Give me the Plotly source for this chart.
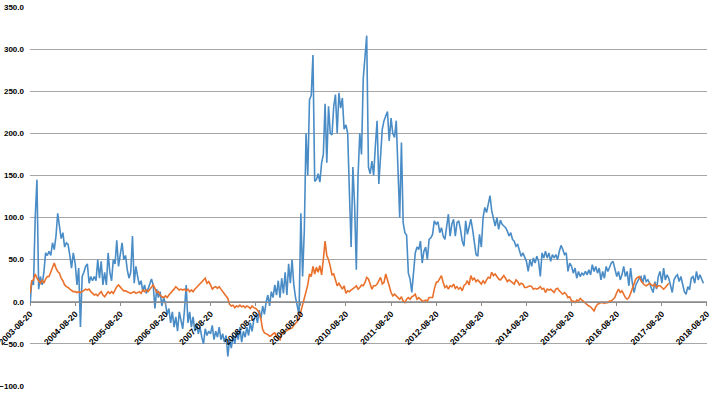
import pandas as pd
import plotly.graph_objects as go

# Biweekly readings, one list per year starting each 20 August (2003 .. 2017)
blue_2003 = [-5, 25, 20, 100, 145, 15, 30, 20, 35, 58, 55, 60, 55, 70, 62, 78, 105, 88, 75, 82, 65, 70, 68, 55, 40, 58]
blue_2004 = [45, 20, 40, -30, 30, 35, 42, 45, 22, 30, 25, 30, 25, 50, 28, 48, 20, 35, 20, 58, 35, 25, 50, 45, 73, 42]
blue_2005 = [60, 70, 50, 55, 38, 28, 35, 78, 22, 42, 30, 20, 25, 12, 20, 10, 15, 22, 27, 20, -8, 15, 5, 12, -5, 5]
blue_2006 = [-2, -15, -8, -25, -12, -30, -18, -35, -12, -22, -32, -10, 20, -25, -12, -30, -18, -35, -25, -38, -30, -42, -50, -32, -40, -35]
blue_2007 = [-38, -28, -45, -35, -42, -30, -45, -38, -48, -40, -65, -45, -55, -40, -50, -35, -45, -30, -48, -35, -42, -30, -40, -25, -35, -22]
blue_2008 = [-15, -25, -10, -20, -5, -15, 0, 8, -5, 12, 5, 20, 8, 25, 5, 28, 10, 35, 8, 45, 22, 50, 20, 5, -5, -15]
blue_2009 = [105, 30, 85, 200, 150, 240, 245, 293, 143, 145, 152, 142, 165, 175, 235, 165, 232, 200, 198, 232, 246, 200, 248, 230, 242, 205]
blue_2010 = [210, 200, 130, 65, 160, 115, 38, 150, 200, 175, 265, 290, 316, 160, 152, 167, 150, 185, 215, 140, 170, 205, 215, 222, 226, 191]
blue_2011 = [218, 200, 195, 215, 150, 100, 189, 94, 82, 79, 34, 27, 11, 34, 58, 65, 62, 72, 46, 60, 65, 50, 74, 76, 80, 96]
blue_2012 = [92, 95, 82, 88, 78, 74, 90, 104, 78, 92, 98, 78, 94, 96, 86, 72, 66, 96, 80, 88, 98, 86, 70, 56, 54, 80]
blue_2013 = [65, 100, 112, 106, 116, 126, 108, 98, 90, 100, 86, 97, 92, 90, 88, 84, 78, 82, 74, 72, 66, 68, 60, 54, 58, 52]
blue_2014 = [48, 36, 50, 42, 52, 46, 54, 48, 30, 58, 52, 60, 52, 58, 48, 56, 52, 56, 50, 60, 67, 62, 56, 58, 36, 46]
blue_2015 = [42, 34, 40, 28, 36, 30, 34, 32, 36, 32, 38, 32, 44, 36, 42, 34, 40, 26, 36, 28, 42, 36, 42, 46, 48, 40]
blue_2016 = [30, 36, 26, 32, 42, 30, 36, 19, 40, 22, 11, 20, 24, 28, 30, 22, 32, 24, 26, 22, 16, 11, 24, 15, 30, 36]
blue_2017 = [22, 40, 26, 32, 28, 20, 11, 26, 30, 32, 24, 30, 20, 12, 9, 18, 14, 28, 30, 22, 36, 26, 32, 26, 22]

orange_2003 = [10, 25, 26, 33, 28, 25, 22, 26, 22, 27, 30, 30, 36, 42, 46, 40, 36, 34, 28, 25, 20, 18, 17, 15, 13, 12]
orange_2004 = [12, 11, 12, 11, 12, 14, 15, 14, 15, 12, 10, 8, 9, 7, 10, 12, 8, 6, 9, 12, 10, 12, 10, 14, 18, 20]
orange_2005 = [17, 15, 13, 13, 12, 11, 10, 11, 12, 10, 11, 12, 10, 14, 12, 14, 12, 15, 18, 20, 16, 11, 12, 8, 6, 5]
orange_2006 = [7, 5, 8, 10, 12, 15, 18, 16, 14, 15, 14, 15, 13, 15, 12, 14, 12, 15, 17, 20, 22, 24, 25, 28, 22, 24]
orange_2007 = [20, 15, 17, 18, 16, 18, 15, 12, 9, 7, 4, -3, -5, -4, -7, -5, -6, -4, -6, -5, -7, -5, -6, -8, -5, -7]
orange_2008 = [-8, -10, -13, -21, -33, -37, -38, -39, -41, -40, -38, -37, -42, -43, -45, -38, -37, -35, -34, -33, -32, -31, -28, -26, -23, -20]
orange_2009 = [-12, -3, 3, 12, 20, 33, 30, 42, 33, 41, 35, 43, 32, 50, 72, 55, 50, 42, 32, 33, 26, 19, 22, 19, 15, 19]
orange_2010 = [10, 13, 12, 14, 15, 17, 19, 15, 17, 20, 19, 23, 29, 27, 21, 15, 19, 19, 21, 25, 29, 21, 23, 33, 27, 19]
orange_2011 = [11, 7, 9, 7, 5, 3, 6, 1, -1, 3, 5, 3, 6, 7, 9, 3, 5, 3, 1, 1, 2, 1, 5, 5, 5, 15]
orange_2012 = [23, 24, 27, 31, 23, 17, 19, 15, 19, 18, 21, 16, 18, 15, 17, 13, 19, 21, 25, 20, 31, 26, 28, 24, 26, 23]
orange_2013 = [21, 25, 22, 26, 29, 28, 35, 31, 33, 30, 27, 26, 29, 31, 28, 24, 26, 24, 22, 21, 26, 24, 20, 22, 21, 17]
orange_2014 = [17, 18, 19, 18, 15, 16, 15, 16, 18, 15, 16, 11, 15, 14, 15, 13, 11, 15, 16, 13, 11, 9, 11, 9, 5, 6]
orange_2015 = [1, 1, -1, 2, 1, 4, 2, 0, -1, -3, -5, -6, -8, -11, -6, -3, -2, -1, -1, -2, -1, -1, 1, 1, 3, 5]
orange_2016 = [11, 15, 11, 13, 9, 5, 3, 5, 10, 16, 22, 27, 29, 30, 25, 22, 20, 19, 20, 22, 20, 19, 21, 17, 19, 19]
orange_2017 = [17, 15, 17, 19, 22]

tick_labels = [f"{y}-08-20" for y in range(2003, 2019)]

blue_years = [blue_2003, blue_2004, blue_2005, blue_2006, blue_2007, blue_2008, blue_2009, blue_2010,
              blue_2011, blue_2012, blue_2013, blue_2014, blue_2015, blue_2016, blue_2017]
orange_years = [orange_2003, orange_2004, orange_2005, orange_2006, orange_2007, orange_2008, orange_2009,
                orange_2010, orange_2011, orange_2012, orange_2013, orange_2014, orange_2015, orange_2016,
                orange_2017]


def build(series_years):
    xs, ys = [], []
    for k, vals in enumerate(series_years):
        d = pd.date_range(f"{2003 + k}-08-20", periods=len(vals), freq="14D")
        xs.extend(d)
        ys.extend(vals)
    return xs, ys


bx, by = build(blue_years)
ox, oy = build(orange_years)

fig = go.Figure()
fig.add_trace(go.Scatter(x=bx, y=by, mode="lines", line=dict(color="#4A8CC6", width=1.6),
                         showlegend=False, hoverinfo="skip"))
fig.add_trace(go.Scatter(x=ox, y=oy, mode="lines", line=dict(color="#E9712C", width=1.6),
                         showlegend=False, hoverinfo="skip"))

fig.update_layout(
    width=720, height=396,
    margin=dict(l=30, r=13, t=7, b=10),
    paper_bgcolor="white", plot_bgcolor="white",
    font=dict(family="Liberation Sans, Arial, sans-serif", size=8, color="black"),
    xaxis=dict(
        type="date",
        range=["2003-08-19 18:00", "2018-08-20 06:00"],
        tickmode="array",
        tickvals=tick_labels,
        ticktext=tick_labels,
        tickangle=-45,
        showgrid=False,
        zeroline=False,
        showline=True,
        linecolor="#8c8c8c",
        linewidth=1,
        ticks="outside",
        ticklen=3,
        tickcolor="#8c8c8c",
        anchor="free",
        position=100 / 450,
        automargin=False,
        ticklabeloverflow="allow",
        tickfont=dict(size=8.5, color="black", weight="bold"),
    ),
    yaxis=dict(
        range=[-100, 350],
        dtick=50,
        tick0=0,
        tickformat=".1f",
        showgrid=True,
        gridcolor="#a6a6a6",
        gridwidth=1,
        zeroline=False,
        showline=False,
        ticks="",
        automargin=False,
        ticklabelstandoff=5,
        tickfont=dict(size=8, color="black", weight="bold"),
    ),
)

fig.write_html("out.html", config={"displayModeBar": False},
               post_script="document.body.style.margin='0';document.body.style.overflow='hidden';")
